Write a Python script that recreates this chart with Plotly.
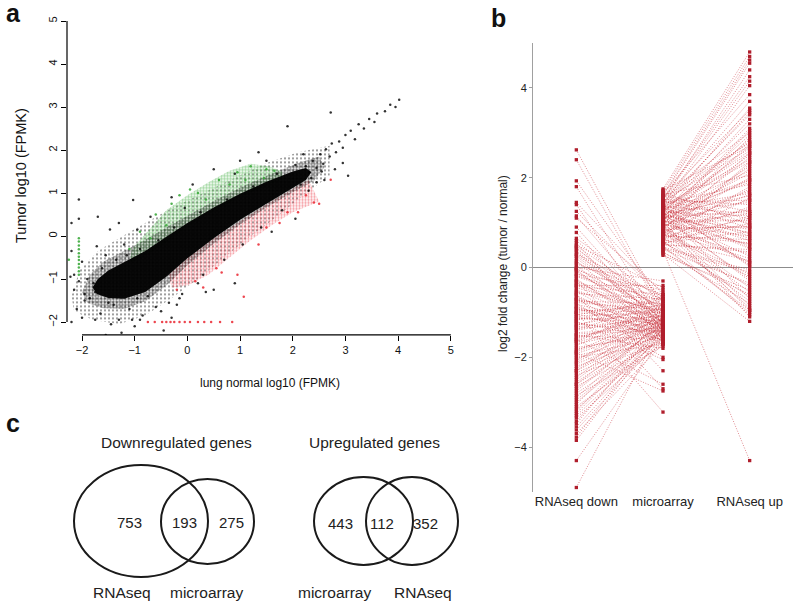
import plotly.graph_objects as go

W, H = 800, 608
FONT = "Liberation Sans, Arial, Helvetica, sans-serif"
NARROW = "Liberation Sans Narrow, Arial Narrow, Liberation Sans, Arial, sans-serif"

# ---------------- Panel a: tumor vs normal log10(FPKM) ----------------
a_ticks = [-2, -1, 0, 1, 2, 3, 4, 5]

# dense core of the point cloud (outline, data units)
core_x = [-1.8, -1.7, -1.5, -1.2, -0.8, -0.4, 0.0, 0.5, 1.0, 1.5, 2.0, 2.25, 2.35,
          2.25, 2.0, 1.5, 1.0, 0.5, 0.0, -0.4, -0.8, -1.2, -1.5, -1.72]
core_y = [-1.2, -1.0, -0.8, -0.6, -0.35, -0.02, 0.3, 0.66, 0.98, 1.26, 1.5, 1.58, 1.48,
          1.3, 1.12, 0.76, 0.38, -0.05, -0.52, -0.95, -1.3, -1.46, -1.44, -1.35]
# medium-density band around the core
mid_x = [-2.0, -1.85, -1.6, -1.25, -0.85, -0.4, 0.1, 0.6, 1.1, 1.6, 2.1, 2.5, 2.6,
         2.4, 2.0, 1.5, 1.0, 0.5, 0.0, -0.4, -0.8, -1.2, -1.6, -1.9]
mid_y = [-1.3, -0.9, -0.6, -0.38, -0.12, 0.2, 0.55, 0.88, 1.18, 1.45, 1.7, 1.85, 1.6,
         1.28, 1.02, 0.66, 0.27, -0.18, -0.68, -1.15, -1.52, -1.7, -1.68, -1.55]
# sparse halo of black points
halo_x = [-2.2, -2.05, -1.7, -1.3, -0.8, -0.3, 0.3, 0.9, 1.5, 2.1, 2.7,
          2.7, 2.2, 1.7, 1.2, 0.7, 0.2, -0.3, -0.8, -1.3, -1.8, -2.15]
halo_y = [-1.4, -0.8, -0.35, -0.05, 0.3, 0.65, 1.0, 1.35, 1.7, 1.95, 2.1,
          1.4, 0.95, 0.45, 0.0, -0.5, -1.0, -1.45, -1.85, -2.05, -1.95, -1.75]
# up-regulated (green) region above the core
green_x = [-1.1, -0.8, -0.4, 0.0, 0.5, 1.0, 1.5, 1.8,
           1.8, 1.55, 1.2, 0.8, 0.4, 0.0, -0.4, -0.8, -1.05]
green_y = [-0.62, -0.47, -0.14, 0.23, 0.58, 0.9, 1.18, 1.32,
           1.5, 1.62, 1.68, 1.52, 1.25, 0.95, 0.6, 0.05, -0.3]
# down-regulated (red) region below the core
red_x = [-0.35, 0.0, 0.5, 1.0, 1.5, 2.0, 2.3,
         2.5, 2.0, 1.6, 1.2, 0.8, 0.4, 0.0, -0.3]
red_y = [-0.9, -0.5, -0.05, 0.35, 0.74, 1.1, 1.3,
         0.8, 0.55, 0.25, -0.1, -0.5, -0.9, -1.15, -1.2]

# individual scattered points
black_x = [2.25, 2.32, 2.38, 2.45, 2.52, 2.58, 2.63, 2.70, 2.74, 2.82, 2.88, 2.95, 3.00, 3.05,
           3.10, 3.18, 3.25, 3.35, 3.45, 3.55, 3.60, 3.75, 3.85, 3.95, 4.02, 2.60, 2.80, 2.45,
           2.15, 2.30, -2.06, -1.03, -1.72, -1.47, -1.20, -1.55, -0.70, -0.30, 0.10, 0.50,
           1.00, 1.35, -0.95, -2.20, -2.00, -1.90, -2.15, -2.10, -1.85, -1.65, -1.50, -1.30,
           -1.10, -0.85, -0.60, -0.95, -0.35, -0.10, 0.20, -1.25, -0.45, 1.90, 2.72, -2.06,
           -2.06, -1.95, -1.75, -1.40, -1.05, -0.75, -0.20, 0.35, 1.60, 2.05, 2.95, -2.22,
           -1.95, -1.78, -1.62, -1.35, -1.15, -0.90, -0.55, -0.25, 0.25, 0.75, 1.25, 1.70,
           2.05, 0.30, 0.70, 1.05, 1.40, 1.80, -0.15, -0.50, -0.90, -1.45, -1.75, -2.00,
           -2.20, -1.55, 0.50, 0.90, -0.30, -1.00, 2.35, 2.55, 2.20, 1.50, 0.90, -0.05,
           -1.30, -1.70, -2.20, -2.15]
black_y = [1.62, 1.48, 1.75, 1.58, 1.90, 1.68, 2.02, 1.85, 2.15, 1.95, 2.20, 2.05, 2.35, 1.40,
           2.45, 2.25, 2.60, 2.50, 2.72, 2.65, 2.85, 2.90, 3.05, 3.00, 3.17, 1.30, 1.55, 1.25,
           1.20, 1.05, 0.85, 0.84, -0.24, 0.15, -0.20, -0.45, 0.45, 0.90, 1.20, 1.55,
           1.75, 1.95, 0.15, -0.35, -0.60, -1.00, -1.25, -1.70, -1.45, -1.80, -1.55, -1.95,
           -1.70, -1.85, -1.65, -1.45, -1.55, -1.35, -1.10, -2.25, -2.20, 2.55, 2.87, 0.40,
           -1.05, -1.50, -1.30, -1.60, -1.95, -1.40, -1.60, -1.30, 0.10, 0.40, 1.70, -0.95,
           -1.35, -1.10, -0.75, -0.55, -0.45, -0.30, -0.10, 0.20, 0.55, 0.85, 1.15, 1.45,
           1.65, -0.90, -0.55, -0.20, 0.20, 0.60, -1.45, -1.75, -1.95, -2.05, -1.95, -1.90,
           -2.00, -2.30, -1.25, -1.10, -1.90, -2.10, 1.35, 1.50, 1.90, 1.75, 1.45, 0.65,
           0.30, 0.45, 0.30, -0.90]
green_pts_x = [-2.06, -2.06, -2.06, -2.06, -2.06, -2.06, -2.06, -2.06, -2.06, -2.06, -2.06,
               -2.25, -0.90, -0.60, -0.30, 0.20, 0.60, 0.95, 1.20, 1.50, -0.40, 0.35, 0.80,
               1.10, 1.45, -1.10, -0.70, 1.65, 0.05, -0.15]
green_pts_y = [-0.90, -0.82, -0.73, -0.65, -0.56, -0.48, -0.40, -0.31, -0.22, -0.13, -0.05,
               -0.55, 0.10, 0.50, 0.75, 1.00, 1.30, 1.48, 1.62, 1.55, 0.25, 0.85, 1.20,
               1.30, 1.35, -0.30, -0.05, 1.52, 1.08, 0.95]
red_pts_x = [1.07, 0.95, 1.35, 1.75, 2.10, 2.50, 2.72, 2.40, -0.20, 0.30, 0.65, 1.90,
             -0.75, -0.62, -0.48, -0.40, -0.32, -0.25, -0.15, -0.05, 0.05, 0.20, 0.32, 0.45,
             0.62, 0.85, 0.15, 0.55, 1.50, 2.25]
red_pts_y = [-1.41, -0.90, -0.20, 0.30, 0.55, 0.75, 1.31, 0.78, -1.25, -1.20, -0.85, 0.55,
             -2.0, -2.0, -2.0, -2.0, -2.0, -2.0, -2.0, -2.0, -2.0, -2.0, -2.0, -2.0,
             -2.0, -2.0, -1.05, -0.75, 0.20, 0.95]

# ---------------- Panel b: paired log2 fold changes ----------------
b_categories = ["RNAseq down", "microarray", "RNAseq up"]
b_ticks = [-4, -2, 0, 2, 4]

down_rnaseq = [2.62, 2.40, 1.93, 1.80, 1.45, 1.40, 1.15, 1.10, 0.90, 0.65, 0.55, 0.50, 0.42,
               0.35, 0.30, 0.20, 0.12, 0.05, -0.05, -0.12, -0.20, -0.28, -0.35, -0.42, -0.50,
               -0.55, -0.62, -0.70, -0.75, -0.82, -0.88, -0.95, -1.00, -1.05, -1.10, -1.15,
               -1.22, -1.28, -1.35, -1.40, -1.48, -1.55, -1.62, -1.70, -1.78, -1.85, -1.92,
               -2.00, -2.08, -2.15, -2.25, -2.35, -2.45, -2.55, -2.65, -2.75, -2.85, -2.95,
               -3.05, -3.15, -3.25, -3.35, -3.48, -3.55, -3.70, -3.85, -4.30, -4.90,
               -0.80, -1.20, -0.30, -1.60, -0.60, -1.90, -1.00, 0.00, -0.40, -1.50,
               0.25, -0.15, -0.90, -1.65, -2.30, -0.70, 0.45, -1.30, -2.60, -0.05,
               0.48, 0.38, 0.28, 0.15, 0.08, -0.02, -0.08, -0.18, -0.25, -0.32, -0.38, -0.45,
               -0.52, -0.58, -0.66, -0.72, -0.78, -0.86, -0.92, -0.98, -1.03, -1.08, -1.13,
               -1.18, -1.25, -1.32, -1.38, -1.45, -1.52, -1.58, -1.66, -1.74, -1.82, -1.88,
               -1.96, -2.04, -2.12, -2.20, -2.30, -2.40, -2.50, -2.60, -2.70, -2.80, -2.90,
               -3.00, -3.10, -3.20, -3.30, -3.42, -3.62, -3.78, 1.25, 0.78, 0.60]
down_microarray = [-0.95, -1.05, -0.80, -1.30, -0.60, -1.45, -1.10, -0.55, -1.25, -0.75, -1.60,
                   -0.45, -1.00, -1.35, -0.65, -1.15, -0.90, -1.50, -0.70, -1.20, -0.85, -1.40,
                   -1.05, -0.60, -1.30, -0.95, -1.55, -1.10, -0.80, -1.25, -1.45, -1.00, -1.20,
                   -0.75, -1.35, -1.10, -1.60, -0.90, -1.25, -1.05, -1.40, -1.15, -0.85, -1.30,
                   -1.50, -1.05, -1.25, -1.70, -0.95, -1.35, -1.15, -1.45, -1.00, -1.30, -1.60,
                   -1.20, -1.75, -1.40, -1.10, -1.55, -1.30, -1.65, -1.20, -1.45, -1.70, -1.35,
                   -1.55, -1.25,
                   -2.00, -2.05, -2.30, -2.60, -2.70, -2.75, -3.22, -0.30, -0.40, -1.80,
                   -1.15, -0.50, -1.62, -0.88, -1.02, -1.72, -1.28, -0.68, -1.12, -1.48,
                   -0.85, -1.25, -0.95, -1.45, -0.60, -1.05, -1.30, -0.75, -1.55, -0.90, -1.20,
                   -1.00, -1.65, -0.70, -1.35, -1.15, -0.95, -1.50, -1.30, -0.85, -1.55, -1.00,
                   -1.25, -0.65, -1.45, -1.15, -0.80, -1.35, -1.60, -1.00, -1.20, -0.90, -1.40,
                   -1.15, -1.55, -1.25, -1.05, -1.50, -1.30, -1.65, -1.10, -1.40, -1.25, -1.55,
                   -1.15, -1.45, -1.70, -1.20, -1.50, -1.35, -1.55, -1.25, -0.70, -1.40, -1.05]

up_microarray = [1.75, 1.70, 1.60, 1.50, 1.55, 1.40, 1.65, 1.30, 1.45, 1.20, 1.35, 1.10, 1.58,
                 0.95, 1.25, 1.05, 1.48, 0.85, 1.15, 1.38, 0.75, 1.00, 1.28, 1.62, 0.90, 1.18,
                 1.42, 0.70, 1.08, 1.32, 0.60, 0.98, 1.22, 1.52, 0.80, 1.12, 1.36, 0.65, 1.02,
                 1.26, 1.68, 0.88, 1.14, 0.55, 1.40, 0.95, 1.20, 0.72, 1.05, 1.30, 0.50, 0.85,
                 1.16, 0.62, 1.00, 1.35, 0.45, 0.78, 1.10, 0.40, 0.92, 0.58, 1.25, 0.35, 0.82,
                 0.48, 1.02, 0.30, 0.38,
                 1.44, 0.68, 1.08, 1.56, 0.27, 1.72, 0.52, 1.19, 0.93, 1.33,
                 1.63, 1.52, 1.46, 1.38, 1.22, 1.12, 0.98, 1.34, 0.88, 1.08, 1.27, 0.76, 1.17,
                 1.45, 0.66, 0.95, 1.24, 1.50, 0.58, 0.84, 1.10, 1.33, 0.70, 0.97, 1.21, 0.52,
                 0.80, 1.06, 1.40, 0.42, 0.74, 1.15, 0.55, 0.88, 0.33, 0.68, 1.00, 0.45, 0.60,
                 1.30, 1.55, 1.05, 0.92, 1.60, 1.48]
up_rnaseq = [4.80, 4.70, 4.55, 4.40, 4.25, 4.05, 3.85, 3.55, 3.40, 3.30, 3.20, 3.10, 3.00,
             2.90, 2.85, 2.75, 2.65, 2.55, 2.50, 2.40, 2.30, 2.25, 2.15, 2.05, 2.00, 1.90,
             1.85, 1.80, 1.70, 1.65, 1.55, 1.50, 1.45, 1.40, 1.30, 1.25, 1.20, 1.10, 1.05,
             1.00, 0.95, 0.90, 0.85, 0.80, 0.75, 0.70, 0.60, 0.55, 0.50, 0.45, 0.40, 0.30,
             0.25, 0.15, 0.10, 0.05, -0.05, -0.15, -0.25, -0.35, -0.45, -0.65, -0.70, -0.80,
             -0.90, -1.00, -1.10, -1.20, -4.30,
             2.80, 2.35, 1.95, 3.50, -0.50, 2.70, 1.15, 0.65, -0.95, 2.60,
             4.62, 4.15, 3.70, 3.45, 2.95, 2.70, 2.45, 2.35, 2.20, 2.10, 1.95, 1.75, 1.60,
             1.50, 1.35, 1.20, 1.15, 1.08, 0.98, 0.92, 0.78, 0.70, 0.62, 0.52, 0.42, 0.35,
             0.20, 0.12, 0.02, -0.10, -0.20, -0.30, -0.40, -0.55, -0.60, -0.75, -0.85, -0.95,
             -1.05, 2.55, 2.78, 3.05, 1.62, 1.25, 0.88]

# ---------------- Panel c: Venn diagrams (pixel units) ----------------
venn_titles = ["Downregulated genes", "Upregulated genes"]
venn_title_pos = [(176, 442), (374, 442)]
ell_cx = [141, 207.5, 363.5, 412]
ell_cy = [521, 521.5, 521, 521]
ell_rx = [67, 46.5, 49.5, 46]
ell_ry = [56, 42.5, 44, 44]
venn_counts = ["753", "193", "275", "443", "112", "352"]
venn_count_x = [129, 184, 231, 340, 382, 425]
venn_count_y = [522, 522, 522, 523, 523, 523]
venn_set_labels = ["RNAseq", "microarray", "microarray", "RNAseq"]
venn_set_x = [122, 206, 334.5, 422.5]
venn_set_y = [592, 592, 592, 592]

fig = go.Figure()


def speckle(xs, ys, color, solidity, size=3):
    """Filled region rendered with a dot pattern, mimicking a dense point cloud."""
    return go.Scatter(x=xs, y=ys, mode="lines", fill="toself", line=dict(width=0),
                      fillcolor="rgba(0,0,0,0)", hoverinfo="skip", showlegend=False,
                      fillpattern=dict(shape=".", fgcolor=color, bgcolor="rgba(0,0,0,0)",
                                       size=size, solidity=solidity),
                      xaxis="x", yaxis="y")


# --- panel a traces
fig.add_trace(speckle(halo_x, halo_y, "black", 0.2, 4))
fig.add_trace(speckle(green_x, green_y, "#3fae3f", 0.55, 3))
fig.add_trace(speckle(red_x, red_y, "#ec3a46", 0.45, 3))
fig.add_trace(speckle(mid_x, mid_y, "black", 0.55, 3))
fig.add_trace(go.Scatter(x=core_x, y=core_y, mode="lines", fill="toself", line=dict(width=0),
                         fillcolor="rgba(0,0,0,0.96)", hoverinfo="skip", showlegend=False,
                         xaxis="x", yaxis="y"))
fig.add_trace(go.Scatter(x=black_x, y=black_y, mode="markers", showlegend=False,
                         marker=dict(size=2.5, color="rgba(0,0,0,0.8)"), xaxis="x", yaxis="y"))
fig.add_trace(go.Scatter(x=green_pts_x, y=green_pts_y, mode="markers", showlegend=False,
                         marker=dict(size=2.5, color="rgba(60,170,60,0.9)"), xaxis="x", yaxis="y"))
fig.add_trace(go.Scatter(x=red_pts_x, y=red_pts_y, mode="markers", showlegend=False,
                         marker=dict(size=2.5, color="rgba(235,50,60,0.9)"), xaxis="x", yaxis="y"))

# --- panel b traces
seg_x, seg_y = [], []
for r, m in zip(down_rnaseq, down_microarray):
    seg_x += [1, 2, None]
    seg_y += [r, m, None]
for m, r in zip(up_microarray, up_rnaseq):
    seg_x += [2, 3, None]
    seg_y += [m, r, None]
fig.add_trace(go.Scatter(x=seg_x, y=seg_y, mode="lines", showlegend=False,
                         line=dict(color="rgba(200,45,55,0.7)", width=0.8, dash="1px,1.6px"),
                         xaxis="x2", yaxis="y2"))
pt_x = ([1] * len(down_rnaseq) + [2] * len(down_microarray)
        + [2] * len(up_microarray) + [3] * len(up_rnaseq))
pt_y = down_rnaseq + down_microarray + up_microarray + up_rnaseq
fig.add_trace(go.Scatter(x=pt_x, y=pt_y, mode="markers", showlegend=False,
                         marker=dict(symbol="square", size=3.3, color="#B01E2C"),
                         xaxis="x2", yaxis="y2"))

# --- shapes
shapes = []
for cx, cy, rx, ry in zip(ell_cx, ell_cy, ell_rx, ell_ry):
    shapes.append(dict(type="circle", xref="x3", yref="y3", x0=cx - rx, x1=cx + rx,
                       y0=cy - ry, y1=cy + ry, line=dict(color="#1a1a1a", width=2)))
# panel a R-style detached axis lines
shapes.append(dict(type="line", xref="x", yref="y domain", x0=a_ticks[0], x1=a_ticks[-1],
                   y0=0, y1=0, line=dict(color="black", width=1.2)))
shapes.append(dict(type="line", xref="x domain", yref="y", x0=0, x1=0,
                   y0=a_ticks[0], y1=a_ticks[-1], line=dict(color="black", width=1.2)))

C = dict(xanchor="center", yanchor="middle", showarrow=False)
ann = []
for txt, (x, y) in zip(["a", "b", "c"], [(13, 13), (498, 18), (13, 423)]):
    ann.append(dict(text="<b>%s</b>" % txt, x=x / W, y=1 - y / H, xref="paper", yref="paper",
                    font=dict(family=FONT, size=25, color="#111"), **C))
ann.append(dict(text="Tumor log10 (FPMK)", x=21 / W, y=1 - 176 / H, xref="paper", yref="paper",
                textangle=-90, font=dict(family=FONT, size=14.5, color="#111"), **C))
ann.append(dict(text="lung normal log10 (FPMK)", x=270 / W, y=1 - 383 / H, xref="paper",
                yref="paper", font=dict(family=NARROW, size=12, color="#111"), **C))
ann.append(dict(text="log2 fold change (tumor / normal)", x=503 / W, y=1 - 264 / H,
                xref="paper", yref="paper", textangle=-90,
                font=dict(family=FONT, size=12, color="#222"), **C))
for t, (x, y) in zip(venn_titles, venn_title_pos):
    ann.append(dict(text=t, x=x, y=y, xref="x3", yref="y3",
                    font=dict(family=FONT, size=15.5, color="#222"), **C))
for t, x, y in zip(venn_counts, venn_count_x, venn_count_y):
    ann.append(dict(text=t, x=x, y=y, xref="x3", yref="y3",
                    font=dict(family=FONT, size=15, color="#222"), **C))
for t, x, y in zip(venn_set_labels, venn_set_x, venn_set_y):
    ann.append(dict(text=t, x=x, y=y, xref="x3", yref="y3",
                    font=dict(family=FONT, size=15.5, color="#222"), **C))

fig.update_layout(
    width=W, height=H, margin=dict(l=0, r=0, t=0, b=0),
    paper_bgcolor="white", plot_bgcolor="white", showlegend=False,
    xaxis=dict(domain=[67 / W, 464 / W], range=[-2.285, 5.25], tickvals=a_ticks,
               ticks="outside", ticklen=5, tickcolor="black", showline=False, showgrid=False,
               zeroline=False, tickfont=dict(family=NARROW, size=11, color="#111"), anchor="y"),
    yaxis=dict(domain=[1 - 334.9 / H, 1 - 12.4 / H], range=[-2.3, 5.2], tickvals=a_ticks,
               ticks="outside", ticklen=5, tickcolor="black", showline=False, showgrid=False,
               zeroline=False, tickangle=-90, tickfont=dict(family=NARROW, size=11, color="#111"),
               anchor="x"),
    xaxis2=dict(domain=[533 / W, 793 / W], range=[0.5, 3.5], tickvals=[1, 2, 3],
                ticktext=b_categories, showline=False, showgrid=False, zeroline=False,
                ticks="", tickfont=dict(family=FONT, size=13, color="#222"), anchor="y2"),
    yaxis2=dict(domain=[1 - 492 / H, 1 - 43 / H], range=[-5, 5], tickvals=b_ticks,
                showline=True, linecolor="#a0a0a0", linewidth=1, ticks="outside", ticklen=3,
                tickcolor="#a0a0a0", showgrid=False, zeroline=True, zerolinecolor="#8c8c8c",
                zerolinewidth=1, tickfont=dict(family=FONT, size=11, color="#222"), anchor="x2"),
    xaxis3=dict(domain=[0, 480 / W], range=[0, 480], visible=False, anchor="y3"),
    yaxis3=dict(domain=[0, 180 / H], range=[608, 428], visible=False, anchor="x3"),
    shapes=shapes, annotations=ann,
)

fig.write_html("out.html", config={"displayModeBar": False},
               post_script="document.body.style.margin='0';")
